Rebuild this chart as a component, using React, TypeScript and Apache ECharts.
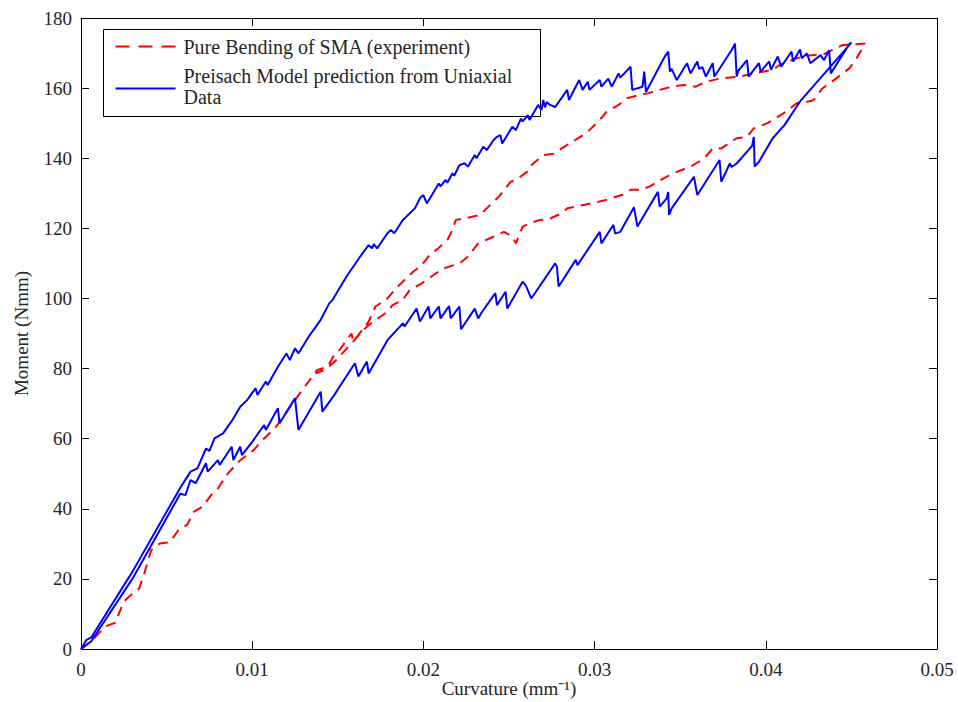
import React, { useEffect, useRef } from "react";
import * as echarts from "echarts";

const xTickValues = [0, 0.01, 0.02, 0.03, 0.04, 0.05];
const yTickValues = [0, 20, 40, 60, 80, 100, 120, 140, 160, 180];

const seriesNames = ["Pure Bending of SMA (experiment)", "Preisach Model prediction from Uniaxial", "Data"];

// Experiment: shared start, upper (loading) branch, lower (unloading) branch
const redStart: number[][] = [
  [0, 0], [0.0003, 1.1], [0.0008, 3.2], [0.0014, 6.4], [0.002, 7.5], [0.0025, 13.5], [0.0028, 14.9],
  [0.0034, 17.3], [0.0037, 21.6], [0.0041, 28.2], [0.0046, 30.1], [0.0052, 30.5], [0.0057, 34],
  [0.0062, 35.4], [0.0066, 39.2], [0.0071, 40.6], [0.0076, 43.9], [0.008, 45.8], [0.0085, 49.6],
  [0.0092, 53.4], [0.0101, 56.8], [0.0106, 59.6], [0.0114, 63.4], [0.0122, 69], [0.013, 74.4],
  [0.0133, 76.3], [0.0138, 79.6], [0.0144, 80.5],
];
const redUpper: number[][] = [
  [0.0149, 84.8], [0.0151, 85.3], [0.0158, 90], [0.0159, 87.7], [0.0168, 93.4], [0.0172, 97.7],
  [0.0179, 100], [0.0185, 103.4], [0.0194, 107.6], [0.0199, 109.5], [0.0204, 112.6], [0.0208, 114],
  [0.0214, 116.7], [0.0216, 118.6], [0.0219, 122.4], [0.0225, 122.9], [0.0233, 123.8], [0.0237, 125.7],
  [0.0244, 129], [0.0251, 133.3], [0.0254, 133.8], [0.0262, 136.6], [0.0263, 138], [0.027, 140.9],
  [0.0276, 141.3], [0.0284, 143.8], [0.029, 145.6], [0.0295, 147.1], [0.0299, 149], [0.0303, 150.9],
  [0.0307, 153.3], [0.0314, 155.2], [0.0319, 157.1], [0.0326, 158], [0.0331, 158.5], [0.0338, 159.5],
  [0.0344, 160.3], [0.0352, 160.9], [0.0359, 160.4], [0.0365, 161.8], [0.0373, 162.7], [0.0385, 163.3],
  [0.0393, 164.2], [0.0404, 165.2], [0.0408, 166.6], [0.0418, 168.5], [0.0424, 169.2], [0.0434, 169.7],
  [0.0445, 172.3], [0.0458, 172.7],
];
const redLower: number[][] = [
  [0.0453, 168.5], [0.0449, 165.7], [0.0441, 162.7], [0.0433, 159.9], [0.0428, 156.6], [0.0425, 156.2],
  [0.0418, 155.7], [0.0412, 153.3], [0.0404, 150.9], [0.0401, 150], [0.0393, 148.5], [0.0389, 146.1],
  [0.0383, 145.7], [0.0374, 142.8], [0.0369, 142.8], [0.0364, 139.9], [0.0356, 137.6], [0.0346, 135.7],
  [0.034, 134.2], [0.0332, 131.9], [0.0327, 131], [0.0321, 131], [0.0316, 129.5], [0.031, 128.6],
  [0.0306, 128], [0.0298, 127.1], [0.0293, 126.6], [0.0284, 125.7], [0.0281, 124.3], [0.0273, 122.6],
  [0.0268, 122.4], [0.0262, 121.4], [0.0258, 120.5], [0.0254, 115.7], [0.0252, 117.6], [0.0247, 119],
  [0.0241, 117.6], [0.0232, 115.7], [0.0226, 111.9], [0.0221, 110], [0.0212, 108.6], [0.0206, 106.7],
  [0.0199, 104.3], [0.0192, 102.4], [0.0188, 99.6], [0.0182, 98.1], [0.0179, 96.2], [0.0168, 92.4],
  [0.0165, 91], [0.0158, 87.2], [0.0149, 82.4], [0.0143, 79.8], [0.0137, 78.6],
];

// Preisach model: loading branch, then unloading branch (listed with increasing curvature)
const blueUpper: number[][] = [
  [0, 0], [0.0003, 2.5], [0.0006, 3.3], [0.0012, 8], [0.003, 22], [0.0058, 46], [0.0064, 50.6],
  [0.0068, 51.5], [0.0073, 57.2], [0.0075, 56.5], [0.0078, 60.1], [0.0083, 61.5], [0.0088, 65],
  [0.0093, 69.1], [0.0097, 71], [0.0102, 74.4], [0.0103, 72.5], [0.0108, 76.3], [0.0109, 75.3],
  [0.0115, 80.5], [0.012, 84.3], [0.0122, 82.4], [0.0125, 85.8], [0.0127, 84.3], [0.0133, 89.1],
  [0.014, 93.9], [0.0145, 98.6], [0.0147, 99.6], [0.0155, 106.2], [0.0163, 111.9], [0.0168, 115.2],
  [0.017, 114.3], [0.0171, 115.5], [0.0173, 114.3], [0.0179, 118.6], [0.0181, 119.5], [0.0183, 118.6],
  [0.0188, 122.4], [0.0195, 125.7], [0.0198, 128.6], [0.02, 129.5], [0.0202, 127.1], [0.0209, 132.8],
  [0.021, 132], [0.0213, 133.8], [0.0214, 133], [0.0217, 135.7], [0.0218, 135], [0.0221, 138],
  [0.0224, 138.6], [0.0226, 137.6], [0.023, 140.9], [0.0231, 140], [0.0235, 143.3], [0.0237, 142.3],
  [0.0241, 145.2], [0.0243, 146.1], [0.0245, 146.6], [0.0246, 144.2], [0.0252, 149], [0.0254, 148],
  [0.0257, 151.3], [0.0258, 150.5], [0.0261, 152.3], [0.0262, 150.9], [0.0267, 155.2], [0.0269, 153.8],
  [0.027, 156.6], [0.0271, 154.5], [0.0272, 156], [0.0274, 155.2], [0.0277, 154.6], [0.0284, 159.5],
  [0.0285, 156.6], [0.0291, 162.3], [0.0293, 159.5], [0.0296, 161.8], [0.0297, 159.5], [0.0303, 162.3],
  [0.0304, 160.4], [0.0308, 162.7], [0.031, 160.4], [0.0314, 164.2], [0.0315, 163], [0.0321, 166.1],
  [0.0322, 159.5], [0.0328, 160.4], [0.0329, 164.7], [0.033, 158.9], [0.0341, 169], [0.0343, 170.4],
  [0.0344, 164.7], [0.0345, 165.5], [0.0348, 162.3], [0.0354, 167.1], [0.0356, 164.2], [0.036, 167.6],
  [0.0361, 165.5], [0.0363, 166], [0.0365, 163.3], [0.0369, 167.1], [0.037, 163.3], [0.038, 170.8],
  [0.0382, 172.7], [0.0383, 163.3], [0.0384, 165], [0.0389, 168], [0.039, 163.3], [0.0396, 167.1],
  [0.0397, 164.7], [0.0402, 167.6], [0.0403, 165.2], [0.0407, 169], [0.0409, 166.1], [0.0415, 170.4],
  [0.0416, 167.6], [0.042, 171], [0.0421, 168.5], [0.0424, 169.9], [0.0426, 167.1], [0.0432, 169.4],
  [0.0434, 168], [0.0437, 170.8], [0.0438, 164.2], [0.0449, 172.7],
];
const blueLower: number[][] = [
  [0, 0], [0.0006, 2.2], [0.003, 20], [0.0058, 44.3], [0.0061, 43.9], [0.0064, 48.2], [0.0067, 47.3],
  [0.0073, 53], [0.0074, 50.6], [0.008, 53.9], [0.0081, 52.5], [0.0088, 57.7], [0.0089, 53.9],
  [0.0093, 57.7], [0.0094, 55.3], [0.01, 59.1], [0.0107, 63.9], [0.0108, 62.5], [0.0115, 68.7],
  [0.0116, 64.4], [0.0125, 71.5], [0.0127, 62.5], [0.014, 73.4], [0.0141, 67.7], [0.0148, 72.5],
  [0.0151, 74.8], [0.016, 81.5], [0.0162, 77.7], [0.0167, 82], [0.0168, 78.6], [0.0179, 88.1],
  [0.0188, 92.9], [0.0189, 92], [0.0196, 97.1], [0.0198, 93.4], [0.0203, 97.7], [0.0204, 94.3],
  [0.0209, 97.7], [0.021, 94.3], [0.0215, 97.8], [0.0216, 94.3], [0.0221, 97.7], [0.0222, 91.2],
  [0.023, 97.1], [0.0232, 94.3], [0.0234, 96], [0.0242, 101.5], [0.0243, 98.1], [0.0248, 101.9],
  [0.0249, 97.1], [0.0258, 104.8], [0.026, 103.5], [0.0263, 100], [0.0277, 110], [0.0278, 109],
  [0.0279, 103.4], [0.0289, 111], [0.029, 109.5], [0.0303, 119], [0.0304, 115.7], [0.0311, 121],
  [0.0312, 118.5], [0.0315, 119], [0.0323, 126], [0.0325, 120.5], [0.0337, 130.4], [0.0338, 126.2],
  [0.0342, 128.5], [0.0343, 130.4], [0.03435, 123.8], [0.0345, 125.7], [0.0358, 134.7], [0.036, 129.5],
  [0.0373, 139.5], [0.0374, 133.3], [0.0379, 138.5], [0.038, 137.5], [0.0383, 138.5], [0.0392, 143.5],
  [0.0393, 146.1], [0.03935, 137.6], [0.0396, 139], [0.0404, 145.7], [0.0411, 149.5], [0.042, 156.2],
  [0.045, 173],
];

const FONT = "'Liberation Serif', 'Times New Roman', serif";
const TEXT_COLOR = "#262626";

export default function App() {
  const ref = useRef<HTMLDivElement>(null);

  useEffect(() => {
    document.body.style.margin = "0";
    if (!ref.current) return;
    const chart = echarts.init(ref.current, undefined, { renderer: "svg" });

    const redData = [...redStart, ...redUpper, ...redLower];
    const blueData = [...blueUpper, ...[...blueLower].reverse()];

    const xMin = xTickValues[0];
    const xMax = xTickValues[xTickValues.length - 1];
    const xInt = xTickValues[1] - xTickValues[0];
    const yMin = yTickValues[0];
    const yMax = yTickValues[yTickValues.length - 1];
    const yInt = yTickValues[1] - yTickValues[0];

    const tickStyle = { show: true, inside: true, length: 8, lineStyle: { color: "#000", width: 1 } };
    const lineStyleAxis = { show: true, onZero: false, lineStyle: { color: "#000", width: 1 } };
    const labelStyle = { fontFamily: FONT, fontSize: 19, color: TEXT_COLOR };

    chart.setOption({
      animation: false,
      backgroundColor: "#fff",
      grid: { left: 81, right: 21, top: 18, bottom: 53, containLabel: false, outerBoundsMode: "none" },
      xAxis: [
        {
          type: "value", min: xMin, max: xMax, interval: xInt, position: "bottom",
          axisLine: lineStyleAxis, axisTick: tickStyle, splitLine: { show: false },
          axisLabel: { ...labelStyle, margin: 11, formatter: (v: number) => (v === 0 ? "0" : v.toFixed(2)) },
          name: "Curvature (mm\u207B\u00B9)", nameLocation: "middle", nameGap: 30, nameMoveOverlap: false,
          nameTextStyle: { fontFamily: FONT, fontSize: 19, color: TEXT_COLOR },
        },
        {
          type: "value", min: xMin, max: xMax, interval: xInt, position: "top",
          axisLine: lineStyleAxis, axisTick: tickStyle, splitLine: { show: false },
          axisLabel: { show: false },
        },
      ],
      yAxis: [
        {
          type: "value", min: yMin, max: yMax, interval: yInt, position: "left",
          axisLine: lineStyleAxis, axisTick: tickStyle, splitLine: { show: false },
          axisLabel: { ...labelStyle, margin: 9 },
          name: "Moment (Nmm)", nameLocation: "middle", nameGap: 50, nameRotate: 90, nameMoveOverlap: false,
          nameTextStyle: { fontFamily: FONT, fontSize: 19, color: TEXT_COLOR },
        },
        {
          type: "value", min: yMin, max: yMax, interval: yInt, position: "right",
          axisLine: lineStyleAxis, axisTick: tickStyle, splitLine: { show: false },
          axisLabel: { show: false },
        },
      ],
      series: [
        {
          name: seriesNames[0], type: "line", data: redData, showSymbol: false, symbol: "none",
          lineStyle: { color: "#ff0000", width: 2, type: [10, 7] }, z: 2,
        },
        {
          name: seriesNames[1], type: "line", data: blueData, showSymbol: false, symbol: "none",
          lineStyle: { color: "#0000ff", width: 2 }, z: 3,
        },
      ],
      graphic: [
        {
          type: "group", left: 103, top: 29, z: 100,
          children: [
            { type: "rect", shape: { x: 0, y: 0, width: 437, height: 87 }, style: { fill: "#fff", stroke: "#000", lineWidth: 1 } },
            { type: "line", shape: { x1: 12, y1: 17, x2: 72, y2: 17 }, style: { stroke: "#ff0000", lineWidth: 2, lineDash: [14, 9] } },
            { type: "text", x: 80, y: 17, style: { text: seriesNames[0], fontFamily: FONT, fontSize: 20, fill: TEXT_COLOR, verticalAlign: "middle" } },
            { type: "line", shape: { x1: 12, y1: 59, x2: 72, y2: 59 }, style: { stroke: "#0000ff", lineWidth: 2 } },
            { type: "text", x: 80, y: 46.5, style: { text: seriesNames[1], fontFamily: FONT, fontSize: 20, fill: TEXT_COLOR, verticalAlign: "middle" } },
            { type: "text", x: 80, y: 67.5, style: { text: seriesNames[2], fontFamily: FONT, fontSize: 20, fill: TEXT_COLOR, verticalAlign: "middle" } },
          ],
        },
      ],
    });

    return () => chart.dispose();
  }, []);

  return <div ref={ref} style={{ width: 958, height: 702 }} />;
}
